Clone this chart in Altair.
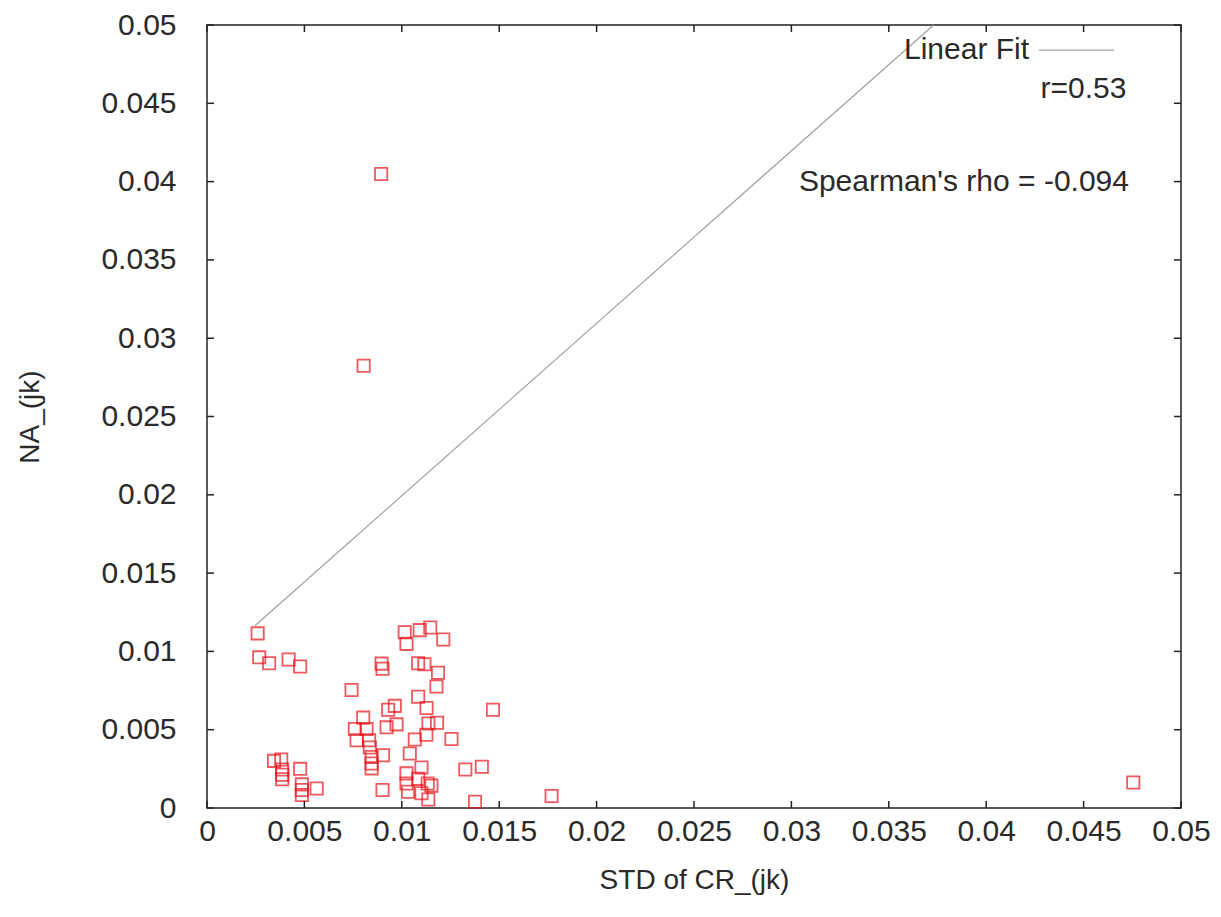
import altair as alt
import pandas as pd

# STD of CR_(jk) (x) and NA_(jk) (y)
std_cr = [
    0.00260, 0.00268, 0.00319, 0.00419, 0.00478,
    0.00344, 0.00381, 0.00386, 0.00386, 0.00386,
    0.00478, 0.00487, 0.00487, 0.00487, 0.00563,
    0.00742, 0.00802, 0.00759, 0.00819, 0.00768, 0.00832, 0.00836, 0.00904,
    0.00845, 0.00845, 0.00845, 0.00901, 0.00896, 0.00901, 0.00930, 0.00964,
    0.00922, 0.00973,
    0.01015, 0.01092, 0.01146, 0.01213, 0.01024, 0.01084, 0.01116, 0.01186,
    0.01178, 0.01084, 0.01127, 0.01137, 0.01181, 0.01126, 0.01067, 0.01041,
    0.01101, 0.01024, 0.01084, 0.01024, 0.01133, 0.01152, 0.01032, 0.01101,
    0.01136, 0.01255, 0.01326, 0.01411, 0.01376, 0.01468, 0.01769,
    0.00894, 0.00804, 0.04755,
]
na_jk = [
    0.01115, 0.00962, 0.00924, 0.00948, 0.00903,
    0.00301, 0.00310, 0.00246, 0.00212, 0.00183,
    0.00250, 0.00151, 0.00115, 0.00083, 0.00125,
    0.00754, 0.00577, 0.00504, 0.00504, 0.00433, 0.00433, 0.00386, 0.00337,
    0.00326, 0.00284, 0.00253, 0.00115, 0.00922, 0.00889, 0.00628, 0.00652,
    0.00515, 0.00534,
    0.01122, 0.01136, 0.01153, 0.01076, 0.01048, 0.00924, 0.00918, 0.00864,
    0.00776, 0.00711, 0.00639, 0.00539, 0.00544, 0.00468, 0.00437, 0.00348,
    0.00258, 0.00221, 0.00186, 0.00157, 0.00157, 0.00143, 0.00104, 0.00094,
    0.00054, 0.00440, 0.00246, 0.00263, 0.00040, 0.00628, 0.00076,
    0.04048, 0.02824, 0.00163,
]

# Linear fit line end points (as drawn)
fit_x = [0.00246, 0.0373]
fit_y = [0.01164, 0.05]

# Tick values
tick_vals = [0, 0.005, 0.01, 0.015, 0.02, 0.025, 0.03, 0.035, 0.04, 0.045, 0.05]

# Key / annotation texts
note_text = ["Linear Fit", "r=0.53", "Spearman's rho = -0.094"]
note_x = [0.0422, 0.0472, 0.04733]
note_y = [0.0484, 0.0459, 0.03995]
key_x = [0.0427]
key_x2 = [0.04656]
key_y = [0.0484]

W, H = 974, 783
FONT = "Liberation Sans"
TXT = "#2a2a2a"

pts = pd.DataFrame({"std": std_cr, "na": na_jk})
fit = pd.DataFrame({"std": fit_x, "na": fit_y})
ticks = pd.DataFrame({"std": tick_vals, "na": tick_vals})
notes = pd.DataFrame({"std": note_x, "na": note_y, "label": note_text})
key = pd.DataFrame({"std": key_x, "std2": key_x2, "na": key_y})

xs = alt.Scale(domain=[0, 0.05], nice=False, zero=False)
ys = alt.Scale(domain=[0, 0.05], nice=False, zero=False)

xaxis = alt.Axis(values=tick_vals, format="~g", title="STD of CR_(jk)", ticks=False,
                 domain=False, grid=False, labelPadding=8, titlePadding=20,
                 labelFlush=False, labelOverlap=False)
yaxis = alt.Axis(values=tick_vals, format="~g", title="NA_(jk)", ticks=False,
                 domain=False, grid=False, labelPadding=31, titlePadding=56,
                 labelFlush=False, labelOverlap=False)

X = alt.X("std:Q", scale=xs, axis=xaxis)
Y = alt.Y("na:Q", scale=ys, axis=yaxis)

points = alt.Chart(pts).mark_point(
    shape="square", filled=False, color="#e8141c", size=150, strokeWidth=1.8
).encode(x=X, y=Y)

fit_line = alt.Chart(fit).mark_line(color="#a0a0a0", strokeWidth=1.2).encode(x=X, y=Y)

tick_color = "#222222"
bottom_ticks = alt.Chart(ticks).mark_rule(color=tick_color, strokeWidth=1.5).encode(
    x=X, y=alt.value(H), y2=alt.value(H - 7))
top_ticks = alt.Chart(ticks).mark_rule(color=tick_color, strokeWidth=1.5).encode(
    x=X, y=alt.value(0), y2=alt.value(7))
left_ticks = alt.Chart(ticks).mark_rule(color=tick_color, strokeWidth=1.5).encode(
    y=Y, x=alt.value(0), x2=alt.value(7))
right_ticks = alt.Chart(ticks).mark_rule(color=tick_color, strokeWidth=1.5).encode(
    y=Y, x=alt.value(W), x2=alt.value(W - 7))

note_marks = alt.Chart(notes).mark_text(
    align="right", baseline="middle", font=FONT, fontSize=30, color=TXT
).encode(x=X, y=Y, text="label:N")

key_line = alt.Chart(key).mark_rule(color="#a0a0a0", strokeWidth=1.2).encode(
    x=X, x2="std2:Q", y=Y)

chart = alt.layer(
    points, fit_line, bottom_ticks, top_ticks, left_ticks, right_ticks,
    note_marks, key_line
).properties(
    width=W, height=H,
    padding={"left": 199, "top": 17, "right": 30, "bottom": 100},
    autosize=alt.AutoSizeParams(type="none"),
).configure_view(
    stroke="#222222", strokeWidth=1.5
).configure_axis(
    labelFont=FONT, labelFontSize=30, labelColor=TXT,
    titleFont=FONT, titleFontSize=28, titleFontWeight="normal", titleColor=TXT,
)

chart.save("out.html", embed_options={"renderer": "svg", "actions": False})
